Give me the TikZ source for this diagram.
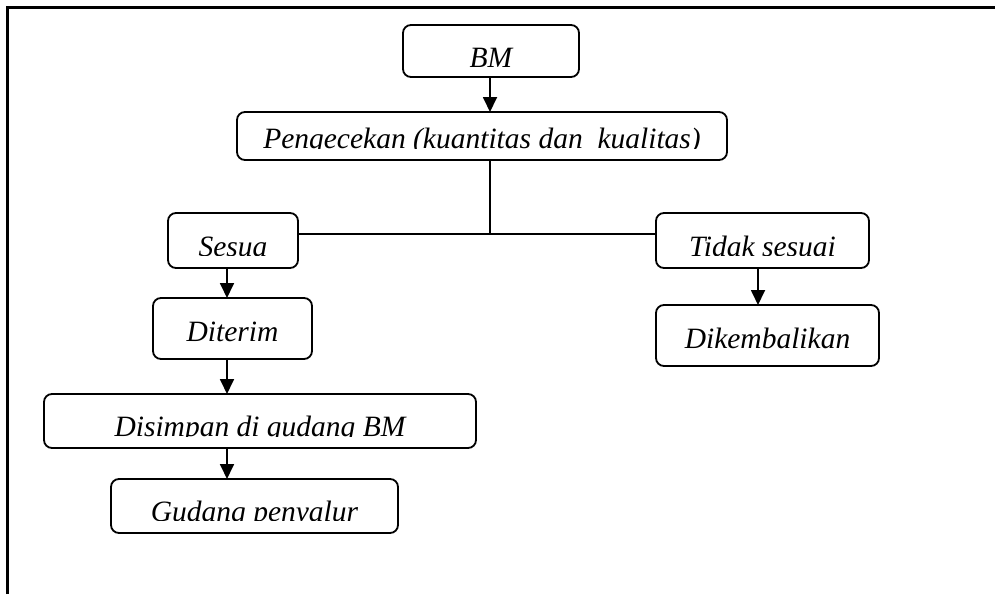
\documentclass[tikz,border=0pt]{standalone}
\usepackage{fontspec}
\setmainfont{Liberation Serif}
\usetikzlibrary{arrows.meta}
\tikzset{
  flowbox/.style={draw, rectangle, line width=1.8pt, rounded corners=8pt,
    inner sep=0pt, outer sep=0pt},
  link/.style={line width=1.8pt},
  flowarrow/.style={link, -{Triangle[width=14pt,length=15pt]}},
  frameline/.style={line width=2.8pt, draw=black},
  lbl/.style={anchor=base, inner sep=0pt, outer sep=0pt,
    font=\fontsize{29.5}{34}\selectfont\itshape},
}
% label of a box: box name, baseline y, clip y, text
\newcommand\boxlabel[4]{%
  \begin{scope}
    \clip (#1.north west) rectangle (#1.east |- 0,#3);
    \node[lbl] at (#1.center |- 0,#2) {#4};
  \end{scope}}

\begin{document}
\begin{tikzpicture}[x=1pt,y=-1pt]
  \useasboundingbox (0,0) rectangle (995,594);

  % outer frame
  \draw[frameline] (7.5,594) -- (7.5,7.5) -- (995,7.5);

  % boxes
  \node[flowbox, minimum width=176pt, minimum height=52pt] (bm)   at (491,51)    {};
  \node[flowbox, minimum width=490pt, minimum height=48pt] (cek)  at (482,136)   {};
  \node[flowbox, minimum width=130pt, minimum height=55pt] (ok)   at (233,240.5) {};
  \node[flowbox, minimum width=213pt, minimum height=55pt] (nok)  at (762.5,240.5) {};
  \node[flowbox, minimum width=159pt, minimum height=61pt] (trm)  at (232.5,328.5) {};
  \node[flowbox, minimum width=223pt, minimum height=61pt] (kmb)  at (767.5,335.5) {};
  \node[flowbox, minimum width=432pt, minimum height=54pt] (smp)  at (260,421)   {};
  \node[flowbox, minimum width=287pt, minimum height=54pt] (gdg)  at (254.5,506) {};

  % labels
  \boxlabel{bm}{67}{66}{BM}
  \boxlabel{cek}{148}{148}{Pengecekan (kuantitas dan\ \ kualitas)}
  \boxlabel{ok}{256}{255}{Sesua}
  \boxlabel{nok}{256}{255}{Tidak sesuai}
  \boxlabel{trm}{341}{359}{Diterim}
  \boxlabel{kmb}{348}{366}{Dikembalikan}
  \boxlabel{smp}{436}{436}{Disimpan di gudang BM}
  \boxlabel{gdg}{521}{520}{Gudang penyalur}

  % connectors
  \coordinate (split) at (490,234);
  \draw[flowarrow] (split |- bm.south) -- (split |- cek.north);
  \draw[link] (split |- cek.south) -- (split);
  \draw[link] (ok.east |- split) -- (nok.west |- split);
  \coordinate (leftx) at (227,0);
  \coordinate (rightx) at (758,0);
  \draw[flowarrow] (leftx |- ok.south) -- (leftx |- trm.north);
  \draw[flowarrow] (leftx |- trm.south) -- (leftx |- smp.north);
  \draw[flowarrow] (leftx |- smp.south) -- (leftx |- gdg.north);
  \draw[flowarrow] (rightx |- nok.south) -- (rightx |- kmb.north);
\end{tikzpicture}
\end{document}
